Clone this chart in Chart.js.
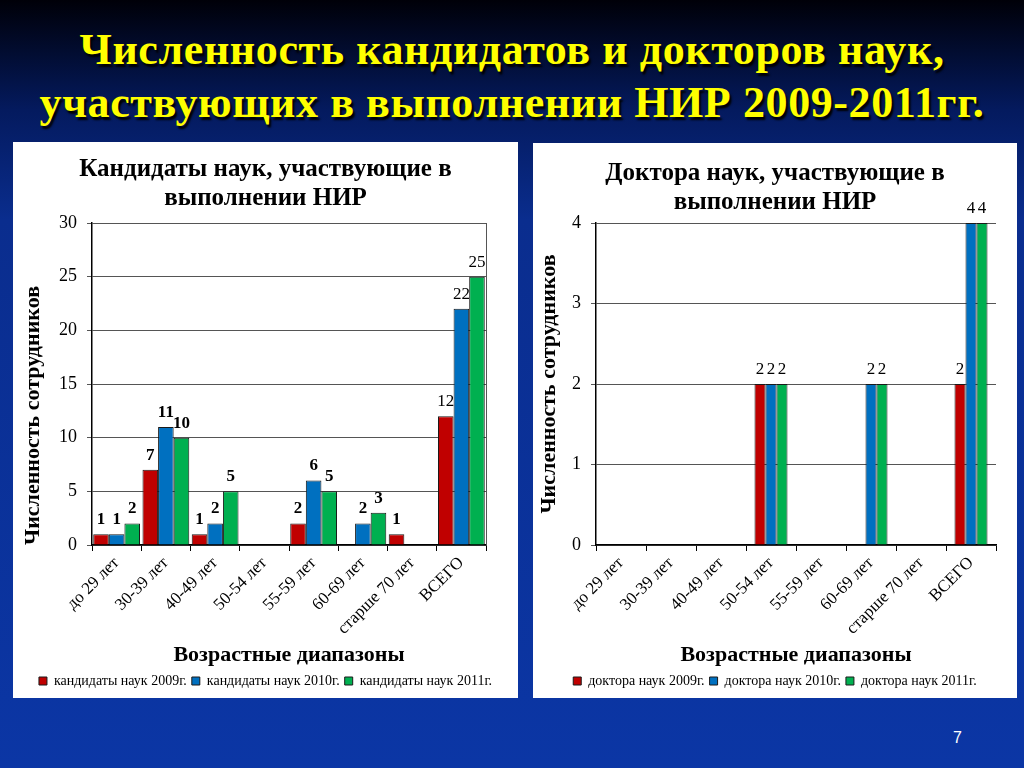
<!DOCTYPE html>
<html>
  <head>
    <meta http-equiv="content-type" content="text/html; charset=utf-8" />
    <title>НИР 2009-2011</title>
    <style>
      body {
        margin: 0;
        width: 1024px;
        height: 768px;
        overflow: hidden;
        position: relative;
        background: linear-gradient(to bottom, #000008 0px, #041a5e 110px, #0a2d8e 220px, #0b36a5 768px);
        font-family: "Liberation Serif", serif;
      }
      .slideTitle {
        position: absolute;
        left: 0;
        top: 23px;
        width: 1024px;
        text-align: center;
        color: #ffff00;
        font-weight: bold;
        font-size: 44px;
        letter-spacing: 0.6px;
        line-height: 53px;
        text-shadow: 2px 3px 2px #000;
      }
      .panel {
        position: absolute;
        background: #fff;
      }
      .pageNo {
        position: absolute;
        left: 953px;
        top: 729px;
        color: #fff;
        font: 16px "Liberation Sans", sans-serif;
      }
    </style>
  </head>

  <body>
    <div class="slideTitle">Численность кандидатов и докторов наук,<br />участвующих в выполнении НИР 2009-2011гг.</div>
    <div class="panel" style="left: 13px; top: 142px; width: 505px; height: 556px">
      <canvas id="cand" width="505" height="556"></canvas>
    </div>
    <div class="panel" style="left: 533px; top: 143px; width: 484px; height: 555px">
      <canvas id="doct" width="484" height="555"></canvas>
    </div>
    <div class="pageNo">7</div>

    <script src="https://cdn.jsdelivr.net/npm/chart.js@4.4.1/dist/chart.umd.min.js"></script>
    <script>
      const ageGroups = ["до 29 лет", "30-39 лет", "40-49 лет", "50-54 лет", "55-59 лет", "60-69 лет", "старше 70 лет", "ВСЕГО"];

      // кандидаты наук
      const cand2009 = [1, 7, 1, 0, 2, 0, 1, 12];
      const cand2010 = [1, 11, 2, 0, 6, 2, 0, 22];
      const cand2011 = [2, 10, 5, 0, 5, 3, 0, 25];

      // доктора наук
      const doct2009 = [0, 0, 0, 2, 0, 0, 0, 2];
      const doct2010 = [0, 0, 0, 2, 0, 2, 0, 4];
      const doct2011 = [0, 0, 0, 2, 0, 2, 0, 4];

      const colors = ["#c00000", "#0070c0", "#00b050"];
      const serif = "'Liberation Serif', serif";

      // подписи значений над столбиками
      const valueLabels = {
        id: "valueLabels",
        afterDatasetsDraw(chart, args, opts) {
          const ctx = chart.ctx;
          ctx.save();
          ctx.fillStyle = "#000";
          ctx.textAlign = "center";
          ctx.textBaseline = "bottom";
          chart.data.datasets.forEach((ds, di) => {
            const meta = chart.getDatasetMeta(di);
            meta.data.forEach((bar, i) => {
              const v = ds.data[i];
              if (!v) return;
              const last = i === ds.data.length - 1;
              const bold = opts.bold && !last;
              ctx.font = (bold ? "bold " : "") + opts.size + "px " + serif;
              ctx.fillText(String(v), bar.x, bar.y - 6);
            });
          });
          ctx.restore();
        },
      };

      // рамка справа у области построения
      const rightBorder = {
        id: "rightBorder",
        afterDraw(chart, args, opts) {
          if (!opts.show) return;
          const a = chart.chartArea;
          const ctx = chart.ctx;
          ctx.save();
          ctx.strokeStyle = "#555";
          ctx.lineWidth = 1;
          ctx.beginPath();
          ctx.moveTo(a.right + 0.5, a.top);
          ctx.lineTo(a.right + 0.5, a.bottom);
          ctx.stroke();
          ctx.restore();
        },
      };

      function makeChart(id, title, series, names, cfg) {
        return new Chart(id, {
          type: "bar",
          data: {
            labels: ageGroups,
            datasets: series.map((d, i) => ({
              label: names[i],
              data: d,
              backgroundColor: colors[i],
              borderColor: "#1a1a1a",
              borderWidth: 1,
              barPercentage: 1.0,
              categoryPercentage: cfg.catPct,
            })),
          },
          options: {
            responsive: false,
            animation: false,
            plugins: {
              title: {
                display: true,
                text: title,
                color: "#000",
                font: { family: serif, size: 25, weight: "bold", lineHeight: 1.16 },
                padding: { top: cfg.titleTop, bottom: cfg.titleBottom },
              },
              legend: {
                position: "bottom",
                labels: {
                  color: "#000",
                  font: { family: serif, size: 14 },
                  boxWidth: 8,
                  boxHeight: 8,
                  padding: 5,
                },
              },
              tooltip: { enabled: false },
              valueLabels: { size: 17, bold: cfg.bold },
              rightBorder: { show: cfg.border },
            },
            scales: {
              x: {
                grid: { drawOnChartArea: false, drawTicks: true, tickLength: 6, color: "#000" },
                border: { color: "#000", width: 1.5 },
                ticks: {
                  color: "#000",
                  font: { family: serif, size: 17 },
                  minRotation: 45,
                  maxRotation: 45,
                  padding: 2,
                },
                title: {
                  display: true,
                  text: "Возрастные диапазоны",
                  color: "#000",
                  font: { family: serif, size: 22, weight: "bold" },
                  padding: { top: 4, bottom: 0 },
                },
                afterFit(scale) {
                  scale.height = 124;
                },
              },
              y: {
                min: 0,
                max: cfg.yMax,
                ticks: {
                  stepSize: cfg.yStep,
                  color: "#000",
                  font: { family: serif, size: 18 },
                  padding: 10,
                },
                grid: { color: "#555", tickLength: 5 },
                border: { color: "#000", width: 1.5 },
                title: {
                  display: true,
                  text: "Численность сотрудников",
                  color: "#000",
                  align: cfg.yTitleAlign,
                  font: { family: serif, size: 22, weight: "bold" },
                  padding: { top: cfg.yTitlePad, bottom: 0 },
                },
                afterFit(scale) {
                  scale.width = cfg.yWidth;
                },
              },
              // пустая правая ось — только отступ, чтобы заголовок и легенда были по центру панели
              spacer: {
                position: "right",
                grid: { display: false },
                border: { display: false },
                ticks: { display: false },
                afterFit(scale) {
                  scale.width = cfg.padRight;
                },
              },
            },
          },
          plugins: [valueLabels, rightBorder],
        });
      }

      makeChart(
        "cand",
        ["Кандидаты наук, участвующие в", "выполнении НИР"],
        [cand2009, cand2010, cand2011],
        ["кандидаты наук 2009г.", "кандидаты наук 2010г.", "кандидаты наук 2011г."],
        { yMax: 30, yStep: 5, catPct: 0.95, yWidth: 79, padRight: 32, bold: true, border: true,
          titleTop: 13, titleBottom: 10, yTitleAlign: "start", yTitlePad: 7 }
      );

      makeChart(
        "doct",
        ["Доктора наук, участвующие в", "выполнении НИР"],
        [doct2009, doct2010, doct2011],
        ["доктора наук 2009г.", "доктора наук 2010г.", "доктора наук 2011г."],
        { yMax: 4, yStep: 1, catPct: 0.66, yWidth: 63, padRight: 21, bold: false, border: false,
          titleTop: 16, titleBottom: 6, yTitleAlign: "center", yTitlePad: 3 }
      );
    </script>
  </body>
</html>
